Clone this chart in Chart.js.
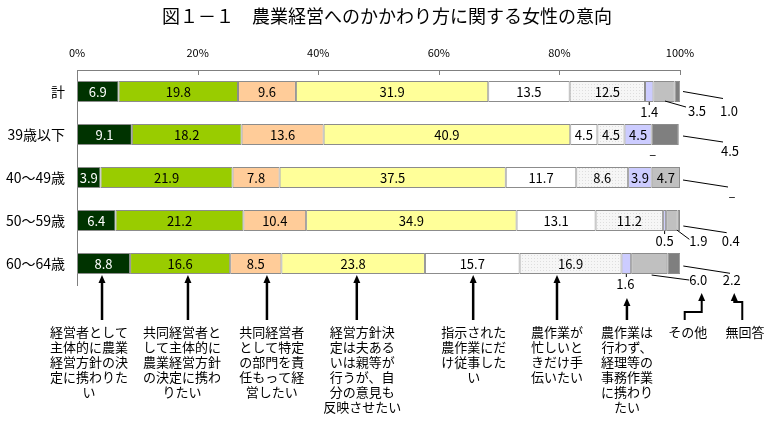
<!DOCTYPE html>
<html lang="ja">
<head>
<meta charset="UTF-8">
<title>図１－１ 農業経営へのかかわり方に関する女性の意向</title>
<script src="https://cdn.jsdelivr.net/npm/chart.js"></script>
<style>
    * { margin: 0; padding: 0; box-sizing: border-box; }
    body { background: #fff; width: 771px; height: 423px; overflow: hidden; }
    .wrap { position: relative; width: 771px; height: 423px; }
</style>
</head>
<body>
<div class="wrap"><canvas id="chart"></canvas></div>
<script>
const FONT = "'Noto Sans CJK JP', 'Noto Sans', sans-serif";

const chartTitle = '図１－１　農業経営へのかかわり方に関する女性の意向';
const categories = ['計', '39歳以下', '40～49歳', '50～59歳', '60～64歳'];
const percentTicks = [0, 20, 40, 60, 80, 100];

// 回答ごとの割合 (%)：計, 39歳以下, 40～49歳, 50～59歳, 60～64歳（0 は「–」）
const keieiShutai   = [6.9, 9.1, 3.9, 6.4, 8.8];
const kyodoShutai   = [19.8, 18.2, 21.9, 21.2, 16.6];
const kyodoBumon    = [9.6, 13.6, 7.8, 10.4, 8.5];
const ikenHanei     = [31.9, 40.9, 37.5, 34.9, 23.8];
const shijiJuji     = [13.5, 4.5, 11.7, 13.1, 15.7];
const isogashiiToki = [12.5, 4.5, 8.6, 11.2, 16.9];
const jimuSagyo     = [1.4, 4.5, 3.9, 0.5, 1.6];
const sonota        = [3.5, 0, 4.7, 1.9, 6.0];
const mukaito       = [1.0, 4.5, 0, 0.4, 2.2];

// 下の説明文（行ごと）
const seriesLines = [
    ['経営者として', '主体的に農業', '経営方針の決', '定に携わりた', 'い'],
    ['共同経営者と', 'して主体的に', '農業経営方針', 'の決定に携わ', 'りたい'],
    ['共同経営者', 'として特定', 'の部門を責', '任もって経', '営したい'],
    ['経営方針決', '定は夫ある', 'いは親等が', '行うが、自', '分の意見も', '反映させたい'],
    ['指示された', '農作業にだ', 'け従事した', 'い'],
    ['農作業が', '忙しいと', 'きだけ手', '伝いたい'],
    ['農作業は', '行わず、', '経理等の', '事務作業', 'に携わり', 'たい'],
    ['その他'],
    ['無回答']
];

const seriesValues = [keieiShutai, kyodoShutai, kyodoBumon, ikenHanei, shijiJuji,
                      isogashiiToki, jimuSagyo, sonota, mukaito];

// 点描パターン（忙しいときだけ手伝いたい）
function dotPattern() {
    const c = document.createElement('canvas');
    c.width = 3; c.height = 3;
    const g = c.getContext('2d');
    g.fillStyle = '#f6f6f6'; g.fillRect(0, 0, 3, 3);
    g.fillStyle = '#dedede'; g.fillRect(0, 0, 1, 1);
    return document.createElement('canvas').getContext('2d').createPattern(c, 'repeat');
}

const seriesColors = ['#003300', '#99cc00', '#ffcc99', '#ffff99', '#ffffff',
                      dotPattern(), '#ccccff', '#c0c0c0', '#7f7f7f'];

// 棒の外に出す数値ラベル：at = mid(区間中央・棒の下端) / end(棒の右端・中央)
const callouts = [
    { row: 0, s: 6, at: 'mid', line: [0, 0, 0, 3], label: [0, 10] },
    { row: 0, s: 7, at: 'mid', line: [1, -1, 22, 5], label: [33, 9] },
    { row: 0, s: 8, at: 'end', line: [3, 0, 43, 7], label: [49, 20] },
    { row: 1, s: 7, at: 'mid', line: null, label: [1, 9] },
    { row: 1, s: 8, at: 'end', line: [3, 1.5, 43, 7.5], label: [50, 16.5] },
    { row: 2, s: 8, at: 'end', line: [3, 2.5, 48, 9.5], label: [52, 18.5] },
    { row: 3, s: 6, at: 'mid', line: [0, 0, 0, 3], label: [0, 10] },
    { row: 3, s: 7, at: 'mid', line: [5, -1, 17.5, 8.3], label: [26.5, 9.7] },
    { row: 3, s: 8, at: 'end', line: [3.3, 5.5, 46.7, 12.2], label: [50.7, 20.2] },
    { row: 4, s: 6, at: 'mid', line: [0, 0, 0, 3], label: [-1, 10] },
    { row: 4, s: 7, at: 'mid', line: [2.4, 1, 40, 6], label: [49, 6] },
    { row: 4, s: 8, at: 'end', line: [3.3, 2.5, 50, 9.8], label: [51.7, 16.5] }
];

// 矢印と説明文の位置（横軸の % 単位）
const arrowX = [4.15, 18.4, 31.5, 46.4, 65.7, 79.6, 91.2, 103.6, 109.0];
const noteX = [2.0, 17.4, 32.3, 47.3, 65.8, 79.6, 91.2, 101.3, 110.8];

function isCallout(row, s) {
    return callouts.some(c => c.row === row && c.s === s);
}

function drawArrow(ctx, pts, w) {
    // pts[0] が矢の先端
    ctx.lineWidth = w;
    ctx.beginPath();
    ctx.moveTo(pts[0][0], pts[0][1] + 5);
    for (let i = 1; i < pts.length; i++) ctx.lineTo(pts[i][0], pts[i][1]);
    ctx.stroke();
    ctx.beginPath();
    ctx.moveTo(pts[0][0], pts[0][1]);
    ctx.lineTo(pts[0][0] - 3.5, pts[0][1] + 8);
    ctx.lineTo(pts[0][0] + 3.5, pts[0][1] + 8);
    ctx.closePath();
    ctx.fill();
}

const annotate = {
    id: 'annotate',
    afterDatasetsDraw(chart) {
        const { ctx, chartArea, scales: { x } } = chart;
        ctx.save();

        // タイトル
        ctx.fillStyle = '#000';
        ctx.font = `18px ${FONT}`;
        ctx.textAlign = 'center';
        ctx.textBaseline = 'middle';
        ctx.fillText(chartTitle, 387, 16);

        // 上軸の内向き目盛
        ctx.strokeStyle = '#808080';
        ctx.lineWidth = 1;
        percentTicks.forEach(v => {
            const px = Math.round(x.getPixelForValue(v)) + 0.5;
            ctx.beginPath();
            ctx.moveTo(px, chartArea.top);
            ctx.lineTo(px, chartArea.top + 5);
            ctx.stroke();
        });

        // 棒の中の数値
        ctx.font = `13px ${FONT}`;
        seriesValues.forEach((vals, si) => {
            chart.getDatasetMeta(si).data.forEach((bar, ri) => {
                const v = vals[ri];
                if (!v || isCallout(ri, si)) return;
                ctx.fillStyle = si === 0 ? '#ffffff' : '#000000';
                ctx.fillText(v.toFixed(1), (bar.x + bar.base) / 2, bar.y + 1);
            });
        });

        // 棒の外の数値と引出線
        ctx.strokeStyle = '#000';
        ctx.fillStyle = '#000';
        ctx.lineWidth = 1;
        callouts.forEach(c => {
            const bar = chart.getDatasetMeta(c.s).data[c.row];
            const v = seriesValues[c.s][c.row];
            let ax, ay;
            if (c.at === 'end') { ax = chartArea.right; ay = bar.y; }
            else { ax = (bar.x + bar.base) / 2; ay = bar.y + bar.height / 2; }
            if (c.line) {
                ctx.beginPath();
                ctx.moveTo(ax + c.line[0], ay + c.line[1]);
                ctx.lineTo(ax + c.line[2], ay + c.line[3]);
                ctx.stroke();
            }
            ctx.fillText(v ? v.toFixed(1) : '–', ax + c.label[0], ay + c.label[1]);
        });

        // 矢印
        const tipBar = chartArea.bottom - 10;
        const yEnd = 320;
        arrowX.forEach((p, i) => {
            const px = x.getPixelForValue(p);
            if (i < 6) drawArrow(ctx, [[px, tipBar], [px, yEnd]], 2.5);
            else if (i === 6) drawArrow(ctx, [[px, 298], [px, yEnd]], 2.5);
            else if (i === 7) drawArrow(ctx, [[px, 293], [px, 312], [px - 17, 312], [px - 17, yEnd]], 2);
            else drawArrow(ctx, [[px, 293], [px, 302], [px + 8, 302], [px + 8, yEnd]], 2);
        });

        // 説明文
        ctx.font = `13px ${FONT}`;
        ctx.fillStyle = '#000';
        seriesLines.forEach((lines, i) => {
            const px = x.getPixelForValue(noteX[i]);
            lines.forEach((t, k) => ctx.fillText(t, px, 332 + k * 15));
        });

        ctx.restore();
    }
};

new Chart(document.getElementById('chart'), {
    type: 'bar',
    data: {
        labels: categories,
        datasets: seriesValues.map((vals, i) => ({
            label: seriesLines[i].join(''),
            data: vals,
            backgroundColor: seriesColors[i],
            borderColor: '#8c8c8c',
            borderWidth: 1,
            borderSkipped: false,
            barPercentage: 0.49,
            categoryPercentage: 1
        }))
    },
    options: {
        indexAxis: 'y',
        responsive: true,
        maintainAspectRatio: false,
        animation: false,
        layout: { padding: { left: 0, right: 91, top: 0, bottom: 138 } },
        plugins: {
            legend: { display: false },
            tooltip: { enabled: false },
            title: { display: false }
        },
        scales: {
            x: {
                position: 'top',
                stacked: true,
                min: 0,
                max: 100,
                afterFit: s => { s.height = 70; },
                afterBuildTicks: s => { s.ticks = percentTicks.map(v => ({ value: v })); },
                grid: { display: false, drawTicks: false },
                border: { display: true, color: '#808080' },
                ticks: {
                    padding: 11,
                    color: '#000',
                    font: { family: FONT, size: 11 },
                    callback: v => v + '%'
                }
            },
            y: {
                stacked: true,
                afterFit: s => { s.width = 77; },
                grid: { display: false, drawTicks: false },
                border: { display: true, color: '#808080' },
                ticks: {
                    padding: 12,
                    color: '#000',
                    font: { family: FONT, size: 14 }
                }
            }
        }
    },
    plugins: [annotate]
});
</script>
</body>
</html>
